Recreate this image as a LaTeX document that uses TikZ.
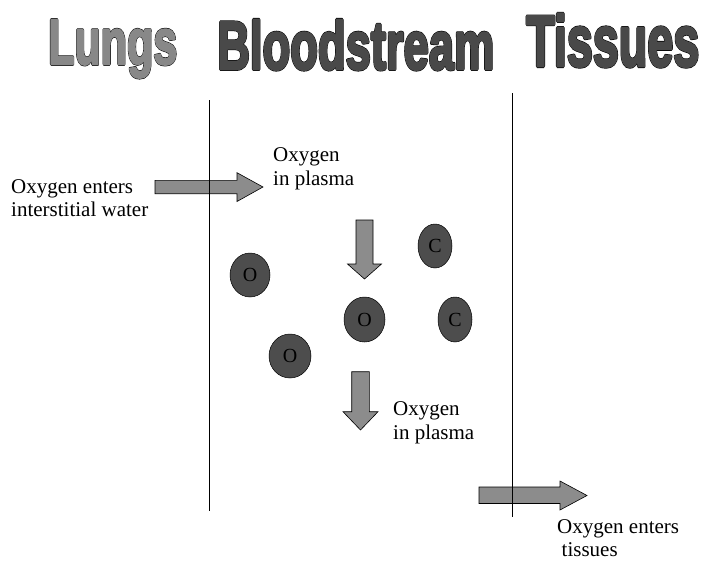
\documentclass[tikz,border=0pt]{standalone}
\usepackage{fontspec}
\setmainfont{Liberation Serif}
\newfontfamily\headfont{Liberation Sans}
\usepackage{graphicx}
\usetikzlibrary{shapes.geometric}
\definecolor{lunggray}{HTML}{888888}
\definecolor{headgray}{HTML}{494949}
\definecolor{cellgray}{HTML}{4D4D4D}
\definecolor{flowgray}{HTML}{8C8C8C}
% thick letters with a thin black rim
\newcommand{\outlined}[2]{%
  \rlap{\color{#1}\special{pdf:literal direct 0 G 0.5 w 1 j 2 Tr}#2}%
  {\color{#1}\special{pdf:literal direct 0.34 w 1 j 2 Tr}#2}%
  \special{pdf:literal direct 0 Tr}}
\tikzset{
  headnode/.style={anchor=north west,inner sep=0pt},
  textnode/.style={anchor=base west,align=left,inner sep=0pt,font=\fontsize{21}{23.5}\selectfont},
  cellnode/.style={ellipse,draw=black,fill=cellgray,inner sep=0pt,line width=0.5pt,font=\fontsize{20}{20}\selectfont},
  flowarrow/.style={draw=black,fill=flowgray,line width=0.6pt,line join=miter},
  wall/.style={black,line width=0.9pt},
}

\begin{document}
\begin{tikzpicture}[x=1pt,y=-1pt]
  \useasboundingbox (0,0) rectangle (701,568);
  % titles
  \node[headnode] (tLungs) at (48,19.5) {\resizebox{129pt}{44.5pt}{\headfont\bfseries\outlined{lunggray}{Lungs}}};
  \node[headnode] (tBlood) at (217,19.5) {\resizebox{277pt}{49.5pt}{\headfont\bfseries\outlined{headgray}{Bloodstream}}};
  \node[headnode] (tTissue) at (526,13.5) {\resizebox{173pt}{52.5pt}{\headfont\bfseries\outlined{headgray}{Tissues}}};
  % flow arrows
  \draw[flowarrow] (155,180.3) -- (237,180.3) -- (237,172.7) -- (263,187) -- (237,201.5) -- (237,193.7) -- (155,193.7) -- cycle;
  \draw[flowarrow] (356,220) -- (373,220) -- (373,264) -- (381.5,264) -- (364.5,279) -- (347.5,264) -- (356,264) -- cycle;
  \draw[flowarrow] (351.7,371.7) -- (369.3,371.7) -- (369.3,411.7) -- (378,411.7) -- (360.5,430) -- (343,411.7) -- (351.7,411.7) -- cycle;
  \draw[flowarrow] (479,487) -- (560,487) -- (560,481) -- (587,495.5) -- (560,510) -- (560,503.5) -- (479,503.5) -- cycle;
  % walls
  \coordinate (w1top) at (209.5,100);
  \coordinate (w1bot) at (209.5,511);
  \coordinate (w2top) at (512.5,93);
  \coordinate (w2bot) at (512.5,517);
  \draw[wall] (w1top) -- (w1bot);
  \draw[wall] (w2top) -- (w2bot);
  % cells
  \node[cellnode,minimum width=40pt,minimum height=44pt] (o1) at (250,275) {O};
  \node[cellnode,minimum width=34pt,minimum height=44pt] (c1) at (435,246) {C};
  \node[cellnode,minimum width=41pt,minimum height=45pt] (o2) at (364.5,319.5) {O};
  \node[cellnode,minimum width=34pt,minimum height=45pt] (c2) at (455,319.5) {C};
  \node[cellnode,minimum width=42pt,minimum height=44pt] (o3) at (290,356) {O};
  % labels (anchored on the last line)
  \node[textnode] (lEnter) at (11,216.5) {Oxygen enters\\interstitial water};
  \node[textnode] (pTop) at (273,185) {Oxygen\\in plasma};
  \node[textnode] (pBot) at (393,439) {Oxygen\\in plasma};
  \node[textnode] (tEnter) at (557,556.5) {Oxygen enters\\\hspace*{4.5pt}tissues};
\end{tikzpicture}
\end{document}
